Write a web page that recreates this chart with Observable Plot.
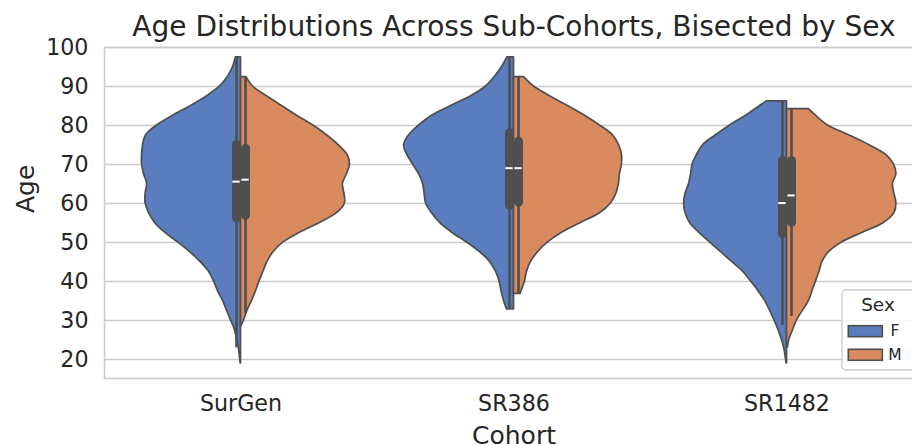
<!DOCTYPE html>
<html><head><meta charset="utf-8">
<script src="https://cdn.jsdelivr.net/npm/d3@7"></script>
<script src="https://cdn.jsdelivr.net/npm/@observablehq/plot@0.6"></script>
<style>
html,body{margin:0;padding:0;background:#fff;}
#chart{width:912px;height:445px;overflow:hidden;position:relative;}
</style></head><body><div id="chart"></div>
<script>
// ---- data ----
const cohorts = ["SurGen", "SR386", "SR1482"];
const sexes = ["F", "M"];
const palette = ["#597dbf", "#da8a5f"];
const yTicks = [20, 30, 40, 50, 60, 70, 80, 90, 100];

// violin half profiles: [age, estimated density (half width)]
const surgenF = [[19,0.004],[20,0.008],[22.5,0.02],[25,0.038],[27.5,0.06],[30,0.10],[32.5,0.14],[35,0.18],[37.5,0.23],[40,0.27],[42.5,0.32],[45,0.405],[47.5,0.51],[50,0.63],[52.5,0.76],[55,0.86],[57.5,0.92],[60,0.955],[62.5,0.955],[65,0.94],[67.5,0.97],[70,0.99],[72.5,0.99],[75,0.98],[77.5,0.95],[80,0.84],[82.5,0.68],[85,0.50],[87.5,0.34],[90,0.21],[92.5,0.13],[95,0.08],[97.5,0.05]];
const surgenM = [[28.5,0.005],[30,0.03],[32.5,0.065],[35,0.11],[37.5,0.15],[40,0.185],[42.5,0.225],[45,0.265],[47.5,0.325],[50,0.425],[52.5,0.59],[55,0.79],[57.5,0.96],[60,1.04],[62.5,1.035],[65,1.02],[67.5,1.06],[70,1.09],[72.5,1.065],[75,0.975],[77.5,0.86],[80,0.725],[82.5,0.56],[85,0.41],[87.5,0.26],[90,0.12],[92.4,0.055]];
const sr386F = [[32.8,0.07],[35,0.10],[37.5,0.125],[40,0.145],[42.5,0.18],[45,0.24],[47.5,0.34],[50,0.47],[52.5,0.62],[55,0.74],[57.5,0.82],[60,0.88],[62.5,0.895],[65,0.91],[67.5,0.95],[70,1.01],[72.5,1.07],[75,1.10],[77.5,1.05],[80,0.95],[82.5,0.82],[85,0.63],[87.5,0.43],[90,0.28],[92.5,0.19],[95,0.12],[97.5,0.065]];
const sr386M = [[36.8,0.067],[37.5,0.075],[40,0.11],[42.5,0.13],[45,0.17],[47.5,0.24],[50,0.34],[52.5,0.48],[55,0.67],[57.5,0.86],[60,0.97],[62.5,1.025],[65,1.05],[67.5,1.06],[70,1.08],[72.5,1.08],[75,1.05],[77.5,0.99],[80,0.86],[82.5,0.71],[85,0.54],[87.5,0.36],[90,0.20],[92.4,0.10]];
const sr1482F = [[19,0.005],[20,0.01],[22.5,0.025],[25,0.05],[27.5,0.085],[30,0.125],[32.5,0.17],[35,0.22],[37.5,0.285],[40,0.36],[42.5,0.44],[45,0.55],[47.5,0.66],[50,0.77],[52.5,0.88],[55,0.97],[57.5,1.015],[60,1.03],[62.5,1.015],[65,0.98],[67.5,0.96],[70,0.945],[72.5,0.90],[75,0.84],[77.5,0.71],[80,0.57],[82.5,0.41],[85,0.27],[86.2,0.20]];
const sr1482M = [[23,0.01],[25,0.023],[27.5,0.06],[30,0.10],[32.5,0.16],[35,0.22],[37.5,0.255],[40,0.29],[42.5,0.325],[45,0.355],[47.5,0.42],[50,0.55],[52.5,0.76],[55,0.97],[57.5,1.075],[60,1.095],[62.5,1.075],[65,1.06],[67.5,1.095],[70,1.07],[72.5,0.99],[75,0.82],[77.5,0.62],[80,0.41],[82.5,0.29],[84.2,0.22]];

// inner box statistics [cohort][sex]
const q1 = [[56.2, 56.8], [59.4, 60.2], [52.1, 55.05]];
const median = [[65.6, 66.1], [69.05, 69.05], [60.1, 62.05]];
const q3 = [[75.0, 74.0], [78.0, 75.85], [70.9, 70.9]];
const whiskerLo = [[23, 31.7], [33, 36.8], [28.7, 31]];
const whiskerHi = [[97.5, 92.4], [97.5, 92.4], [86.2, 84.2]];

// ---- build tables ----
const profiles = [[surgenF, surgenM], [sr386F, sr386M], [sr1482F, sr1482M]];
const densityScale = 0.366;   // category units per density unit
const innerOffset = 0.0165;   // box / whisker offset from split line
const medianHalf = 0.0135;
const side = s => (s === 0 ? -1 : 1);

const rows = profiles.flatMap((pair, i) => pair.flatMap((prof, s) =>
  prof.map(([age, d]) => ({i, s, key: i + "-" + s, age, center: i, edge: i + side(s) * d * densityScale}))));
const stats = cohorts.flatMap((c, i) => sexes.map((sx, s) => ({
  i, s, pos: i + side(s) * innerOffset,
  q1: q1[i][s], med: median[i][s], q3: q3[i][s], lo: whiskerLo[i][s], hi: whiskerHi[i][s]
})));

const ink = "#262626";
const edgeColor = "#4f4f4f";

const plot = Plot.plot({
  width: 912, height: 445,
  marginLeft: 104, marginRight: -11, marginTop: 47, marginBottom: 67,
  style: {fontFamily: "DejaVu Sans", background: "white", color: ink, overflow: "hidden"},
  x: {type: "linear", domain: [-0.5, 2.5]},
  y: {domain: [15.1, 100]},
  marks: [
    Plot.gridY(yTicks, {stroke: "#cccccc", strokeOpacity: 1, strokeWidth: 1.5}),
    Plot.frame({stroke: "#cccccc", strokeWidth: 1.6}),
    ...sexes.map((sx, s) => Plot.areaX(rows.filter(d => d.s === s), {
      y: "age", x1: "center", x2: "edge", z: "key",
      fill: palette[s], fillOpacity: 1, stroke: edgeColor, strokeWidth: 1.7,
      curve: "catmull-rom"
    })),
    Plot.ruleX(stats, {x: "pos", y1: "lo", y2: "hi", stroke: edgeColor, strokeWidth: 2.6}),
    Plot.ruleX(stats, {x: "pos", y1: "q1", y2: "q3", stroke: edgeColor, strokeWidth: 9, strokeLinecap: "round"}),
    Plot.ruleY(stats, {y: "med", x1: d => d.pos - medianHalf, x2: d => d.pos + medianHalf, stroke: "white", strokeWidth: 2}),
    Plot.axisY(yTicks, {tickSize: 0, tickPadding: 16, fontSize: 22.2, label: null}),
    Plot.axisX([0, 1, 2], {tickSize: 0, tickPadding: 17, fontSize: 22.2, tickFormat: i => cohorts[i], label: null}),
    Plot.text(["Age Distributions Across Sub-Cohorts, Bisected by Sex"], {text: d => d, frameAnchor: "top", lineAnchor: "middle", dy: -20, fontSize: 28, fill: ink}),
    Plot.text(["Cohort"], {text: d => d, frameAnchor: "bottom", lineAnchor: "middle", dy: 57, fontSize: 25, fill: ink}),
    Plot.text(["Age"], {text: d => d, frameAnchor: "left", lineAnchor: "middle", dx: -79, rotate: -90, fontSize: 25, fill: ink})
  ]
});

// legend (Sex)
const svg = d3.select(plot);
const lg = svg.append("g").attr("font-family", "DejaVu Sans").attr("fill", ink);
lg.append("rect").attr("x", 842).attr("y", 290).attr("width", 110).attr("height", 80).attr("rx", 4)
  .attr("fill", "white").attr("fill-opacity", 0.8).attr("stroke", "#cccccc").attr("stroke-width", 1.3);
lg.append("text").attr("x", 878).attr("y", 310.7).attr("text-anchor", "middle").attr("font-size", 18.5).text("Sex");
sexes.forEach((sx, s) => {
  const y0 = 325.7 + s * 23.6;
  lg.append("rect").attr("x", 848.3).attr("y", y0).attr("width", 34).attr("height", 11)
    .attr("fill", palette[s]).attr("stroke", edgeColor).attr("stroke-width", 1.6);
  lg.append("text").attr("x", 895).attr("y", y0 + 10.6).attr("font-size", 15.5).text(sx);
});

document.getElementById("chart").appendChild(plot);
</script>
</body></html>
